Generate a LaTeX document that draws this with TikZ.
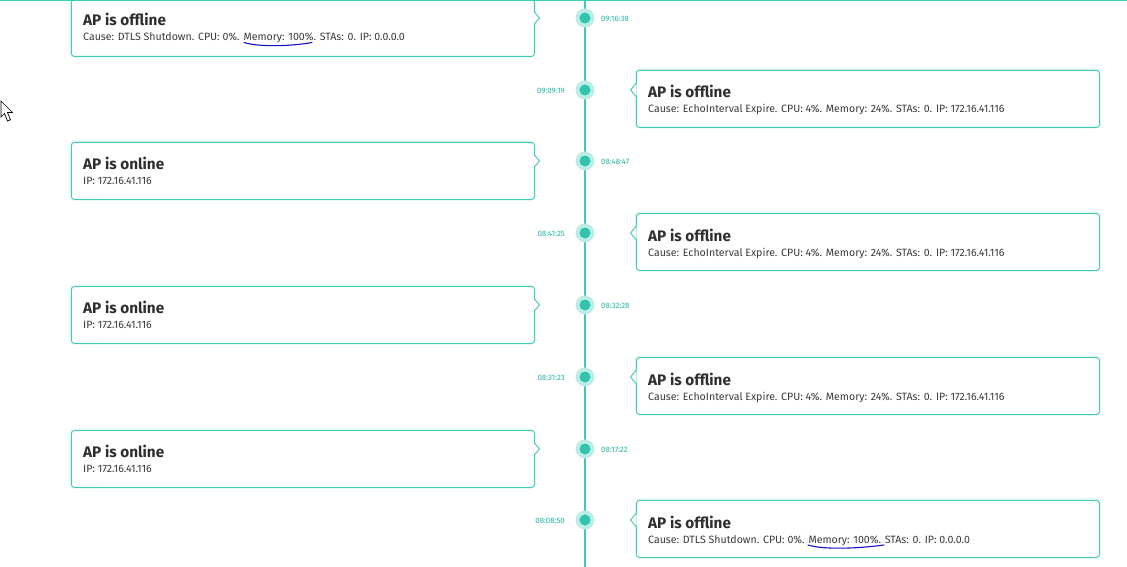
\documentclass[tikz,border=0pt]{standalone}
\usepackage{fontspec}
\setmainfont{Fira Sans}
\definecolor{tealline}{HTML}{3CCBB7}
\definecolor{haloc}{HTML}{BDEEE6}
\definecolor{glowc}{HTML}{E3F7F3}
\definecolor{dotc}{HTML}{2EC4AF}
\definecolor{tstc}{HTML}{22B5A2}
\definecolor{subc}{HTML}{3A3A3C}
\definecolor{ttlc}{HTML}{2E2E30}
\definecolor{penc}{HTML}{1010D0}
\tikzset{
  card/.style={draw=tealline, line width=0.9pt, fill=white, rounded corners=3pt,
    minimum width=463pt, minimum height=57pt, inner sep=0pt},
  glow/.style={draw=glowc, line width=3.5pt, rounded corners=4pt},
  ttl/.style={anchor=base west, inner sep=0pt, text=ttlc, font=\bfseries\fontsize{15.3}{17}\selectfont},
  sub/.style={anchor=base west, inner sep=0pt, text=subc, font=\fontsize{10.6}{12}\selectfont},
  tstamp/.style={inner sep=0pt, text=tstc, font=\fontsize{7.8}{9}\selectfont},
  halo/.style={circle, fill=haloc, minimum size=19pt, inner sep=0pt},
  dotn/.style={circle, fill=dotc, minimum size=11pt, inner sep=0pt},
  notch/.style={draw=tealline, line width=0.9pt, line join=miter},
  pen/.style={draw=penc, line width=1.1pt, line cap=round},
  tline/.style={draw=tealline, line width=1.3pt}
}
% left card: #1 index, #2 dot y, #3 time, #4 title, #5 subtitle
\newcommand{\lcard}[5]{%
  \draw[glow] (71,#2-19) rectangle (534,#2+38);
  \node[card, anchor=north west] (c#1) at (71,#2-19) {};
  \fill[white] (533.3,#2-6) -- (539.5,#2) -- (533.3,#2+6) -- cycle;
  \draw[notch] (534,#2-6.5) -- (539.5,#2) -- (534,#2+6.5);
  \node[ttl] (t#1) at (83,#2+8) {#4};
  \node[sub] (s#1) at (83,#2+23) {#5};
  \node[halo] (h#1) at (585,#2) {};
  \node[dotn] (d#1) at (585,#2) {};
  \node[tstamp, anchor=west] (ts#1) at (601,#2+0.5) {#3};
}
\newcommand{\rcard}[5]{%
  \draw[glow] (636,#2-20) rectangle (1099,#2+37);
  \node[card, anchor=north west] (c#1) at (636,#2-20) {};
  \fill[white] (636.7,#2-6) -- (630.5,#2) -- (636.7,#2+6) -- cycle;
  \draw[notch] (636,#2-6.5) -- (630.5,#2) -- (636,#2+6.5);
  \node[ttl] (t#1) at (648,#2+8) {#4};
  \node[sub] (s#1) at (648,#2+23) {#5};
  \node[halo] (h#1) at (585,#2) {};
  \node[dotn] (d#1) at (585,#2) {};
  \node[tstamp, anchor=east] (ts#1) at (565,#2+0.5) {#3};
}
\begin{document}
\begin{tikzpicture}[x=1pt,y=-1pt]
\useasboundingbox[fill=white] (0,0) rectangle (1127,567);
\coordinate (ltop) at (585,0);
\coordinate (lbot) at (585,567);
\draw[tline] (ltop) -- (lbot);
\lcard{1}{18}{09:16:38}{AP is offline}{Cause: DTLS Shutdown. CPU: 0\%. Memory: 100\%. STAs: 0. IP: 0.0.0.0}
\rcard{2}{90}{09:09:19}{AP is offline}{Cause: EchoInterval Expire. CPU: 4\%. Memory: 24\%. STAs: 0. IP: 172.16.41.116}
\lcard{3}{161}{08:48:47}{AP is online}{IP: 172.16.41.116}
\rcard{4}{233}{08:41:25}{AP is offline}{Cause: EchoInterval Expire. CPU: 4\%. Memory: 24\%. STAs: 0. IP: 172.16.41.116}
\lcard{5}{305}{08:32:28}{AP is online}{IP: 172.16.41.116}
\rcard{6}{377}{08:31:23}{AP is offline}{Cause: EchoInterval Expire. CPU: 4\%. Memory: 24\%. STAs: 0. IP: 172.16.41.116}
\lcard{7}{449}{08:17:22}{AP is online}{IP: 172.16.41.116}
\rcard{8}{520}{08:08:50}{AP is offline}{Cause: DTLS Shutdown. CPU: 0\%. Memory: 100\%. STAs: 0. IP: 0.0.0.0}
% top rule
\coordinate (hl) at (0,0.7);
\coordinate (hr) at (1127,0.7);
\draw[tline, line width=1.6pt] (hl) -- (hr);
% hand-drawn underlines
\draw[pen] (244,42.5) .. controls (258,47) and (290,46.5) .. (312,42.5);
\draw[pen] (808,545) .. controls (822,549.5) and (854,549) .. (884,545);
% mouse cursor
\draw[black, fill=white, line width=0.7pt, line join=miter]
  (1,101) -- (1,117) -- (4.5,113.5) -- (7.5,121) -- (10.5,119.8) -- (7.5,112.5) -- (12.5,112.5) -- cycle;
\end{tikzpicture}
\end{document}
